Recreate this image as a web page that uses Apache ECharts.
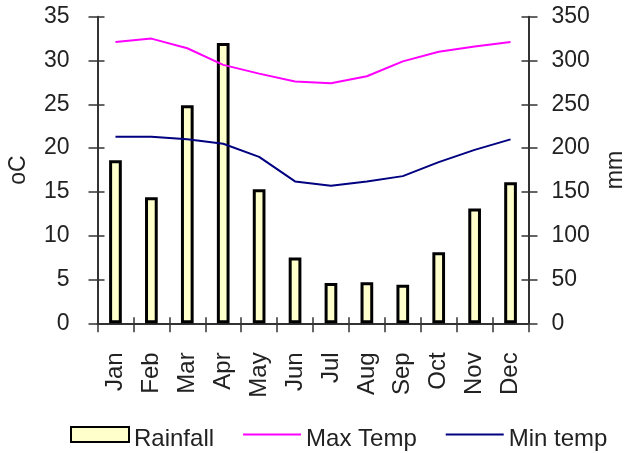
<!DOCTYPE html>
<html>
<head>
<meta charset="utf-8">
<script src="https://cdn.jsdelivr.net/npm/echarts@6/dist/echarts.min.js"></script>
<style>
  html, body { margin: 0; padding: 0; background: #fff; }
  #chart { width: 624px; height: 453px; }
</style>
</head>
<body>
<div id="chart"></div>
<script>
// Monthly climate data
const months = ['Jan', 'Feb', 'Mar', 'Apr', 'May', 'Jun', 'Jul', 'Aug', 'Sep', 'Oct', 'Nov', 'Dec'];
const rainfall = [186, 144, 249, 320, 153, 75, 46, 47, 44, 81, 131, 161];   // mm
const maxTemp  = [32.1, 32.5, 31.4, 29.5, 28.5, 27.6, 27.4, 28.2, 29.9, 31.0, 31.6, 32.1]; // oC
const minTemp  = [21.3, 21.3, 21.0, 20.5, 19.0, 16.2, 15.7, 16.2, 16.8, 18.4, 19.8, 21.0]; // oC

const FONT = 'Liberation Sans, Arial, sans-serif';
const AXIS_COLOR = '#333';
const TEXT_COLOR = '#222';

const chart = echarts.init(document.getElementById('chart'), null, { renderer: 'canvas' });

// A thin horizontal bar used as legend symbol for the lines
const lineIcon = 'path://M0,0 L58,0 L58,2 L0,2 Z';

// Axis pairs: the main axes carry outside ticks and labels, the twins add the inner half of each tick
function valueAxis(pos, max, interval, name, gap, labelMargin, main) {
  return {
    type: 'value',
    position: pos,
    min: 0,
    max: max,
    interval: interval,
    splitLine: { show: false },
    axisLine: { show: main, lineStyle: { color: AXIS_COLOR, width: 2 } },
    axisTick: { show: true, inside: !main, length: main ? 9 : 7, lineStyle: { color: AXIS_COLOR, width: 1.5 } },
    axisLabel: { show: main, color: TEXT_COLOR, fontFamily: FONT, fontSize: 23, margin: labelMargin },
    name: main ? name : '',
    nameLocation: 'middle',
    nameRotate: 90,
    nameGap: gap,
    nameTextStyle: { color: TEXT_COLOR, fontFamily: FONT, fontSize: 23 }
  };
}

chart.setOption({
  animation: false,
  backgroundColor: '#fff',
  grid: {
    left: 97.5, right: 95.5, top: 16.7, bottom: 129.7,
    containLabel: false,
    outerBoundsMode: 'none'
  },
  legend: {
    left: 65,
    top: 421,
    itemWidth: 58,
    itemHeight: 15,
    itemGap: 29,
    formatter: '{t|{name}}',
    textStyle: {
      color: TEXT_COLOR, fontFamily: FONT, fontSize: 24,
      rich: { t: { color: TEXT_COLOR, fontFamily: FONT, fontSize: 24, padding: [10, 0, 0, 0] } }
    },
    data: [
      { name: 'Rainfall', icon: 'rect' },
      { name: 'Max Temp', icon: lineIcon },
      { name: 'Min temp', icon: lineIcon }
    ]
  },
  xAxis: [
    {
      type: 'category',
      data: months,
      boundaryGap: true,
      axisLine: { onZero: false, lineStyle: { color: AXIS_COLOR, width: 2 } },
      axisTick: { show: true, length: 9, lineStyle: { color: AXIS_COLOR, width: 1.5 } },
      axisLabel: { rotate: 90, color: TEXT_COLOR, fontFamily: FONT, fontSize: 24, margin: 29, interval: 0 }
    },
    {
      type: 'category',
      data: months,
      position: 'bottom',
      boundaryGap: true,
      axisLine: { show: false, onZero: false },
      axisTick: { show: true, inside: true, length: 6, lineStyle: { color: AXIS_COLOR, width: 1.5 } },
      axisLabel: { show: false }
    }
  ],
  yAxis: [
    valueAxis('left', 35, 5, 'oC', 67, 28, true),
    valueAxis('right', 350, 50, 'mm', 76, 23, true),
    valueAxis('left', 35, 5, '', 0, 0, false),
    valueAxis('right', 350, 50, '', 0, 0, false)
  ],
  series: [
    {
      name: 'Rainfall',
      type: 'bar',
      yAxisIndex: 1,
      data: rainfall,
      barWidth: 12.7,
      itemStyle: { color: '#FFFFCC', borderColor: '#000', borderWidth: 3 }
    },
    {
      name: 'Max Temp',
      type: 'line',
      yAxisIndex: 0,
      data: maxTemp,
      symbol: 'none',
      lineStyle: { color: '#FF00FF', width: 2 },
      itemStyle: { color: '#FF00FF' }
    },
    {
      name: 'Min temp',
      type: 'line',
      yAxisIndex: 0,
      data: minTemp,
      symbol: 'none',
      lineStyle: { color: '#000080', width: 2 },
      itemStyle: { color: '#000080' }
    }
  ]
});
</script>
</body>
</html>
